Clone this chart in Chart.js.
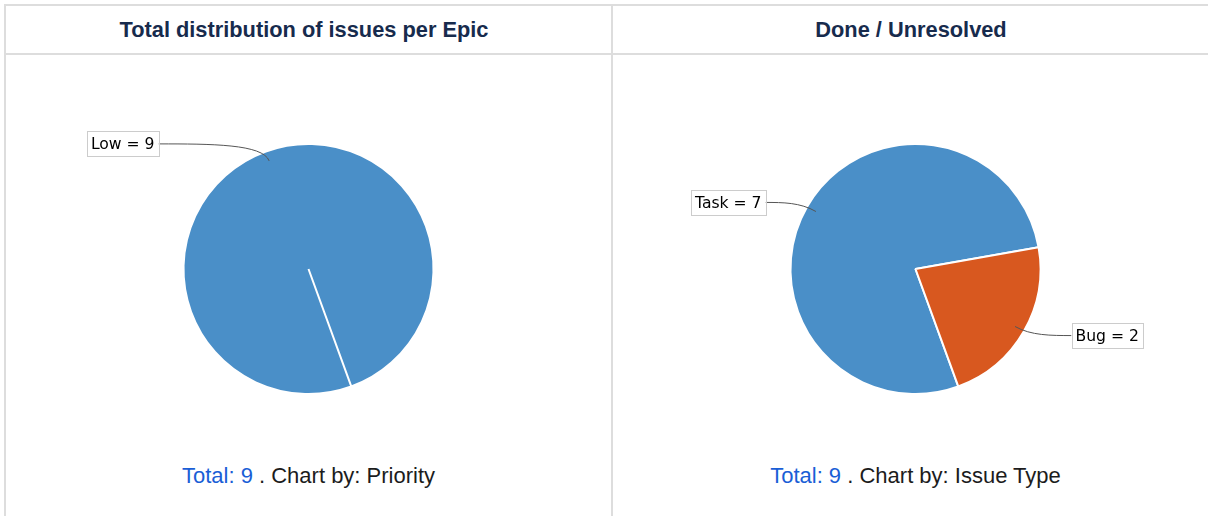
<!DOCTYPE html>
<html lang="en">
<head>
    <meta charset="utf-8" />
    <title>Epic report - pie charts</title>
    <script src="https://cdn.jsdelivr.net/npm/chart.js"></script>
    <style>
        html, body { margin: 0; padding: 0; background: #fff; overflow: hidden; }
        body { width: 1208px; height: 516px; position: relative; font-family: "Liberation Sans", Arial, sans-serif; }
        .frame { position: absolute; left: 4px; top: 4px; width: 1216px; height: 530px; border-left: 2px solid #ddd; border-top: 2px solid #ddd; }
        .cell { position: absolute; top: 0; width: 605px; height: 100%; }
        .cell.left { left: 0; border-right: 2px solid #ddd; }
        .cell.right { left: 607px; }
        .head { height: 47px; line-height: 48px; padding-right: 9px; text-align: center; font-weight: bold; font-size: 21.8px; color: #172b4d; border-bottom: 2px solid #ddd; }
        .cell canvas { position: absolute; left: 0; top: 49px; }
        .foot { position: absolute; left: 0; width: 605px; top: 457px; text-align: center; font-size: 22px; color: #1c1c1c; }
        .foot a { color: #1a5ed6; text-decoration: none; }
    </style>
</head>
<body>
    <div class="frame">
        <div class="cell left">
            <div class="head">Total distribution of issues per Epic</div>
            <canvas id="priorityChart" width="605" height="400"></canvas>
            <div class="foot"><a href="#">Total: 9</a> . Chart by: Priority</div>
        </div>
        <div class="cell right">
            <div class="head">Done / Unresolved</div>
            <canvas id="typeChart" width="605" height="400"></canvas>
            <div class="foot"><a href="#">Total: 9</a> . Chart by: Issue Type</div>
        </div>
    </div>

    <script>
        // du lieu doc tu hinh
        const priorityLabels = ['Low'];
        const priorityValues = [9];
        const priorityColors = ['#4a8fc8'];

        const typeLabels = ['Task', 'Bug'];
        const typeValues = [7, 2];
        const typeColors = ['#4a8fc8', '#d8581f'];

        // nhan kieu "Low = 9" voi duong noi cong
        const calloutPlugin = {
            id: 'callouts',
            afterDatasetsDraw(chart) {
                const ctx = chart.ctx;
                const meta = chart.getDatasetMeta(0);
                const labels = chart.data.labels;
                const values = chart.data.datasets[0].data;
                ctx.save();
                ctx.font = '15.6px "DejaVu Sans"';
                ctx.textBaseline = 'middle';
                meta.data.forEach((arc, i) => {
                    const p = arc.getProps(['x', 'y', 'startAngle', 'endAngle', 'outerRadius'], true);
                    const mid = (p.startAngle + p.endAngle) / 2;
                    const r = p.outerRadius;
                    const ax = p.x + Math.cos(mid) * r * 0.92;
                    const ay = p.y + Math.sin(mid) * r * 0.92;
                    const kx = p.x + Math.cos(mid) * r * 1.065;
                    const ly = p.y + Math.sin(mid) * r * 1.065;
                    const onRight = Math.cos(mid) >= 0;
                    const ex = onRight ? p.x + r + 31 : p.x - r - 25;

                    const text = labels[i] + ' = ' + values[i];
                    const w = ctx.measureText(text).width + 8;
                    const h = 25;
                    const bx = onRight ? ex : ex - w;

                    ctx.strokeStyle = '#555';
                    ctx.lineWidth = 1;
                    ctx.beginPath();
                    ctx.moveTo(ax, ay);
                    ctx.bezierCurveTo(kx, ly, (kx + ex) / 2, ly, ex, ly);
                    ctx.stroke();

                    ctx.fillStyle = '#fff';
                    ctx.fillRect(bx, ly - h / 2, w, h);
                    ctx.strokeStyle = '#ccc';
                    ctx.strokeRect(Math.round(bx) + 0.5, Math.round(ly - h / 2) + 0.5, Math.round(w), h);
                    ctx.fillStyle = '#000';
                    ctx.fillText(text, bx + 4, ly + 1);
                });
                ctx.restore();
            }
        };

        function makePie(id, labels, values, colors) {
            return new Chart(document.getElementById(id), {
                type: 'pie',
                data: {
                    labels: labels,
                    datasets: [{
                        data: values,
                        backgroundColor: colors,
                        borderColor: '#fff',
                        borderWidth: 2
                    }]
                },
                options: {
                    responsive: false,
                    animation: false,
                    rotation: 160,
                    layout: { padding: { top: 88, bottom: 60, left: 0, right: 0 } },
                    plugins: {
                        legend: { display: false },
                        tooltip: { enabled: false }
                    }
                },
                plugins: [calloutPlugin]
            });
        }

        makePie('priorityChart', priorityLabels, priorityValues, priorityColors);
        makePie('typeChart', typeLabels, typeValues, typeColors);
    </script>
</body>
</html>
